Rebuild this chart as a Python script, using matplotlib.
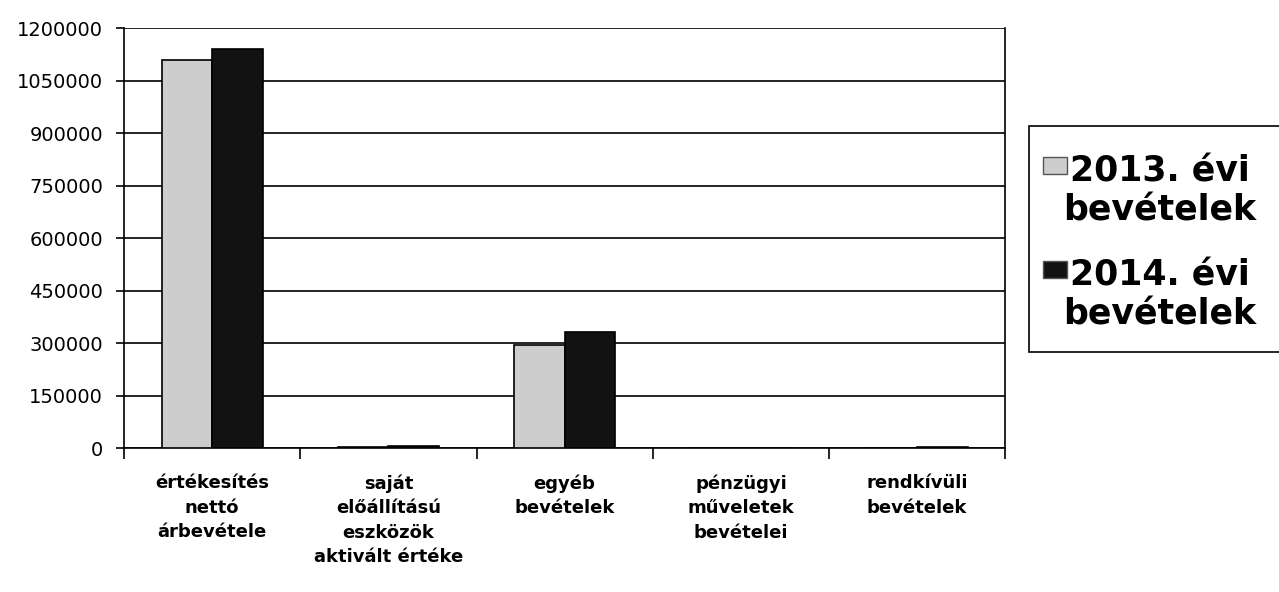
import matplotlib
matplotlib.use('Agg')
import matplotlib.pyplot as plt
from matplotlib.patches import Rectangle
import numpy as np

plt.rcParams['font.family'] = ['DejaVu Sans']

categories = ['értékesítés\nnettó\nárbevétele',
              'saját\nelőállítású\neszközök\naktivált értéke',
              'egyéb\nbevételek',
              'pénzügyi\nműveletek\nbevételei',
              'rendkívüli\nbevételek']
values_2013 = [1110000, 3000, 293000, 1000, 500]
values_2014 = [1139000, 7000, 332000, 1000, 3000]
series_labels = ['2013. évi\nbevételek', '2014. évi\nbevételek']
series_colors = ['#cdcdcd', '#121212']
yticks = list(range(0, 1200001, 150000))

fig = plt.figure(figsize=(12.79, 5.92), dpi=100)
ax = fig.add_axes([0.097, 0.2432, 0.689, 0.7095])

x = np.arange(len(categories))
w = 0.287
ax.bar(x - w/2, values_2013, w, color=series_colors[0], edgecolor='black', linewidth=1.2, zorder=3)
ax.bar(x + w/2, values_2014, w, color=series_colors[1], edgecolor='black', linewidth=1.2, zorder=3)

ax.set_xlim(-0.5, len(categories) - 0.5)
ax.set_ylim(0, 1200000)
ax.set_yticks(yticks)
ax.set_yticklabels([str(v) for v in yticks], fontsize=14)
ax.yaxis.grid(True, color='black', linewidth=1.2, zorder=0)
ax.tick_params(axis='y', length=6, width=1.2, pad=9)

# boundary ticks as major, labels on minor at the centres
ax.set_xticks(np.arange(-0.5, len(categories), 1.0))
ax.set_xticklabels([])
ax.tick_params(axis='x', which='major', length=8, width=1.2)
ax.set_xticks(x, minor=True)
ax.set_xticklabels(categories, minor=True, fontsize=13, fontweight='bold', linespacing=1.45)
ax.tick_params(axis='x', which='minor', length=0, pad=19)

ax.spines['top'].set_visible(False)
for s in ['left', 'right', 'bottom']:
    ax.spines[s].set_linewidth(1.2)

# legend box drawn like the spreadsheet one (text centred, cut at right edge)
W, H = 1279.0, 592.0
fig.patches.append(Rectangle((1029/W, 1 - 352/H), 260/W, 226/H, transform=fig.transFigure,
                             facecolor='white', edgecolor='black', linewidth=1.2, clip_on=False))
for i, (lab, col) in enumerate(zip(series_labels, series_colors)):
    top = 157 + i * 104
    fig.patches.append(Rectangle((1043/W, 1 - (top + 17)/H), 24/W, 17/H, transform=fig.transFigure,
                                 facecolor=col, edgecolor='#555555', linewidth=1))
    fig.text(1160/W, 1 - (top - 2)/H, lab, ha='center', va='top', fontsize=25,
             fontweight='bold', linespacing=1.15)

fig.savefig('out.png', dpi=100)
